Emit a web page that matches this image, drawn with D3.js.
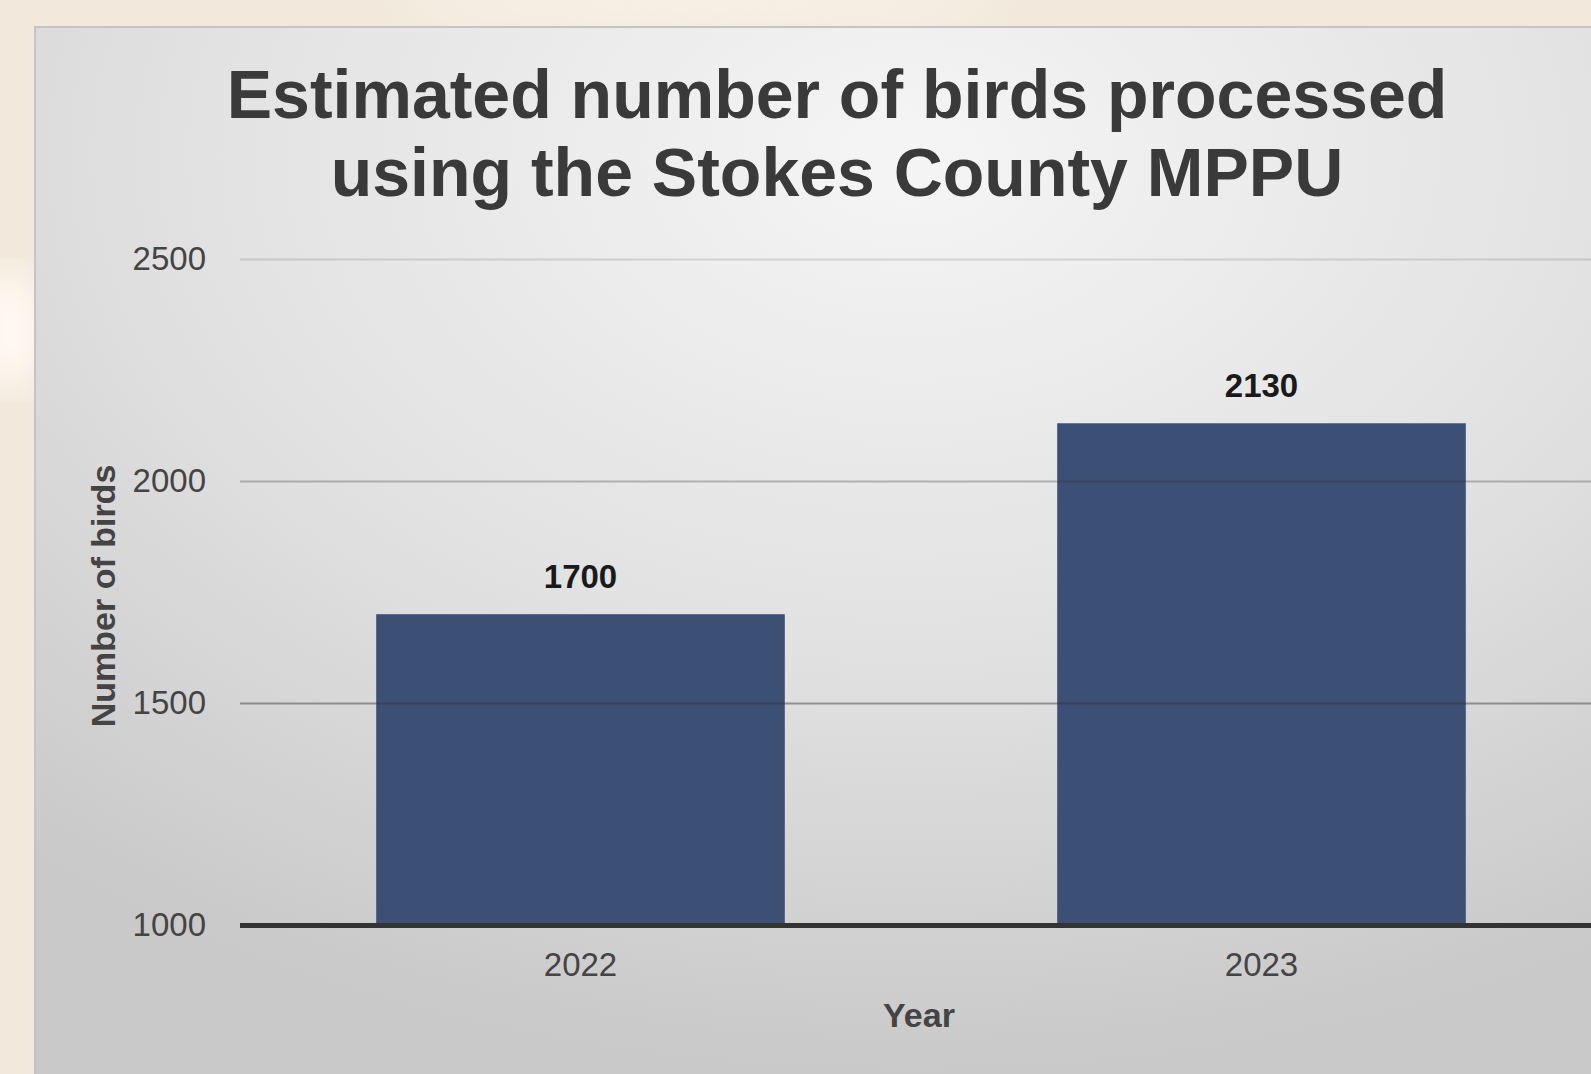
<!DOCTYPE html>
<html>
<head>
<meta charset="utf-8">
<script src="https://cdn.jsdelivr.net/npm/d3@7"></script>
<style>
  body { margin: 0; overflow: hidden; background: #f3ebe0; }
  svg { display: block; font-family: "Liberation Sans", Arial, sans-serif; }
</style>
</head>
<body>
<svg width="1591" height="1074"></svg>
<script>
const years = ["2022", "2023"]
const birds = [1700, 2130]
const yTicks = [1000, 1500, 2000, 2500]
const titleLines = ["Estimated number of birds processed", "using the Stokes County MPPU"]

const svg = d3.select("svg")
const W = +svg.attr("width"), H = +svg.attr("height")
const margin = {top: 259, right: -11, bottom: 149, left: 240}

const defs = svg.append("defs")
const bg = defs.append("radialGradient").attr("id", "panel")
  .attr("cx", "0.55").attr("cy", "0.12").attr("r", "0.85")
bg.append("stop").attr("offset", "0").attr("stop-color", "#f5f5f5")
bg.append("stop").attr("offset", "0.55").attr("stop-color", "#e1e1e1")
bg.append("stop").attr("offset", "1").attr("stop-color", "#c9c9c9")
defs.append("filter").attr("id", "blur").append("feGaussianBlur").attr("stdDeviation", 18)

// blurred photo behind the panel
svg.append("rect").attr("width", W).attr("height", H).attr("fill", "#f2e9dc")
svg.append("ellipse").attr("cx", 10).attr("cy", 330).attr("rx", 30).attr("ry", 60)
  .attr("fill", "#fffaf3").attr("filter", "url(#blur)")
svg.append("ellipse").attr("cx", 700).attr("cy", 5).attr("rx", 300).attr("ry", 20)
  .attr("fill", "#f8f1e6").attr("filter", "url(#blur)")

svg.append("rect").attr("x", 35).attr("y", 27).attr("width", W).attr("height", H)
  .attr("fill", "url(#panel)").attr("stroke", "#c4c4c4").attr("stroke-width", 2)

const x = d3.scaleBand().domain(years)
  .range([margin.left, W - margin.right])
  .paddingInner(0.4).paddingOuter(0.2)
const y = d3.scaleLinear().domain([1000, 2500]).range([H - margin.bottom, margin.top])

// title
svg.append("text")
  .attr("x", 837).attr("y", 118)
  .attr("text-anchor", "middle")
  .attr("font-size", 68).attr("font-weight", "bold").attr("fill", "#3a3a3a")
  .selectAll("tspan").data(titleLines).join("tspan")
  .attr("x", 837).attr("dy", (d, i) => i ? 78 : 0)
  .text(d => d)

// bars
svg.append("g").selectAll("rect").data(birds).join("rect")
  .attr("x", (d, i) => x(years[i]))
  .attr("y", d => y(d))
  .attr("width", x.bandwidth())
  .attr("height", d => y(1000) - y(d))
  .attr("fill", "#3c5076")

// gridlines on top of bars, like the original
const gridAlpha = {1500: 0.45, 2000: 0.3, 2500: 0.15}
const yAxis = svg.append("g")
  .attr("transform", `translate(${margin.left},0)`)
  .call(d3.axisLeft(y).tickValues(yTicks).tickSize(-(W - margin.left)).tickPadding(34).tickFormat(d3.format("d")))
yAxis.select(".domain").remove()
yAxis.selectAll(".tick line")
  .attr("stroke", d => d === 1000 ? "#333" : `rgba(50,50,50,${gridAlpha[d]})`)
  .attr("stroke-width", d => d === 1000 ? 5 : 2)
yAxis.selectAll(".tick text")
  .attr("font-size", 33).attr("fill", "#444").attr("font-family", "Liberation Sans, Arial, sans-serif")

const xAxis = svg.append("g")
  .attr("transform", `translate(0,${y(1000)})`)
  .call(d3.axisBottom(x).tickSize(0).tickPadding(28))
xAxis.select(".domain").remove()
xAxis.selectAll(".tick text")
  .attr("font-size", 33).attr("fill", "#444").attr("font-family", "Liberation Sans, Arial, sans-serif")

// value labels
svg.append("g").selectAll("text").data(birds).join("text")
  .attr("x", (d, i) => x(years[i]) + x.bandwidth() / 2)
  .attr("y", d => y(d) - 26)
  .attr("text-anchor", "middle")
  .attr("font-size", 33).attr("font-weight", "bold").attr("fill", "#1a1a1a")
  .text(d => d)

// axis titles
svg.append("text")
  .attr("x", 919).attr("y", 1027)
  .attr("text-anchor", "middle")
  .attr("font-size", 34).attr("font-weight", "bold").attr("fill", "#444")
  .text("Year")

svg.append("text")
  .attr("transform", `translate(115,596) rotate(-90)`)
  .attr("text-anchor", "middle")
  .attr("font-size", 34).attr("font-weight", "bold").attr("fill", "#444")
  .text("Number of birds")
</script>
</body>
</html>
